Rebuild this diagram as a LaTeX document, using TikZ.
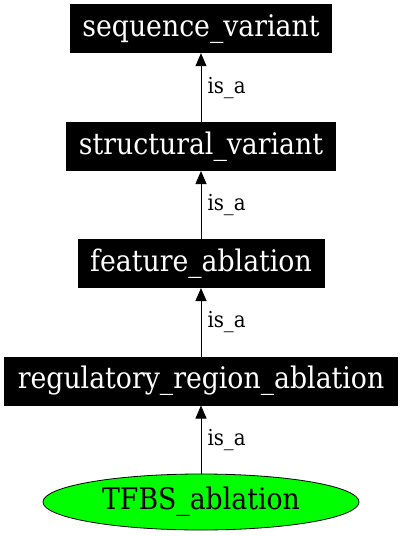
\documentclass[tikz,border=0pt]{standalone}
\usepackage{fontspec}
\setmainfont{DejaVu Serif Condensed}
\usetikzlibrary{arrows.meta}
\tikzset{
    term/.style={fill=black,text=white,minimum height=49pt,inner sep=0pt,outer sep=0pt,
        font=\fontsize{29.7}{33}\selectfont},
    leaf/.style={ellipse,draw=black,fill=green,line width=0.8pt,minimum width=316pt,
        minimum height=56pt,inner sep=0pt,outer sep=0pt,font=\fontsize{29.7}{33}\selectfont},
    isa/.style={-{Triangle[length=13pt,width=11pt]},line width=1pt},
    lbl/.style={midway,anchor=west,inner sep=0pt,xshift=6pt,font=\fontsize{22}{25}\selectfont}
}
\usetikzlibrary{shapes.geometric}
\begin{document}
\begin{tikzpicture}[x=1pt,y=-1pt]
        \useasboundingbox(0,0)rectangle(403,536);
        \node[term,minimum width=262pt](1)at(201,28.7){sequence\_variant};
        \node[term,minimum width=270pt](2)at(201,146.5){structural\_variant};
        \node[term,minimum width=247pt](3)at(201,263.5){feature\_ablation};
        \node[term,minimum width=394pt](4)at(201,381){regulatory\_region\_ablation};
        \node[leaf](5)at(201,502){TFBS\_ablation};
        \draw[isa](2)--(1)node[lbl]{is\_a};
        \draw[isa](3)--(2)node[lbl]{is\_a};
        \draw[isa](4)--(3)node[lbl]{is\_a};
        \draw[isa](5)--(4)node[lbl]{is\_a};
    \end{tikzpicture}
\end{document}
